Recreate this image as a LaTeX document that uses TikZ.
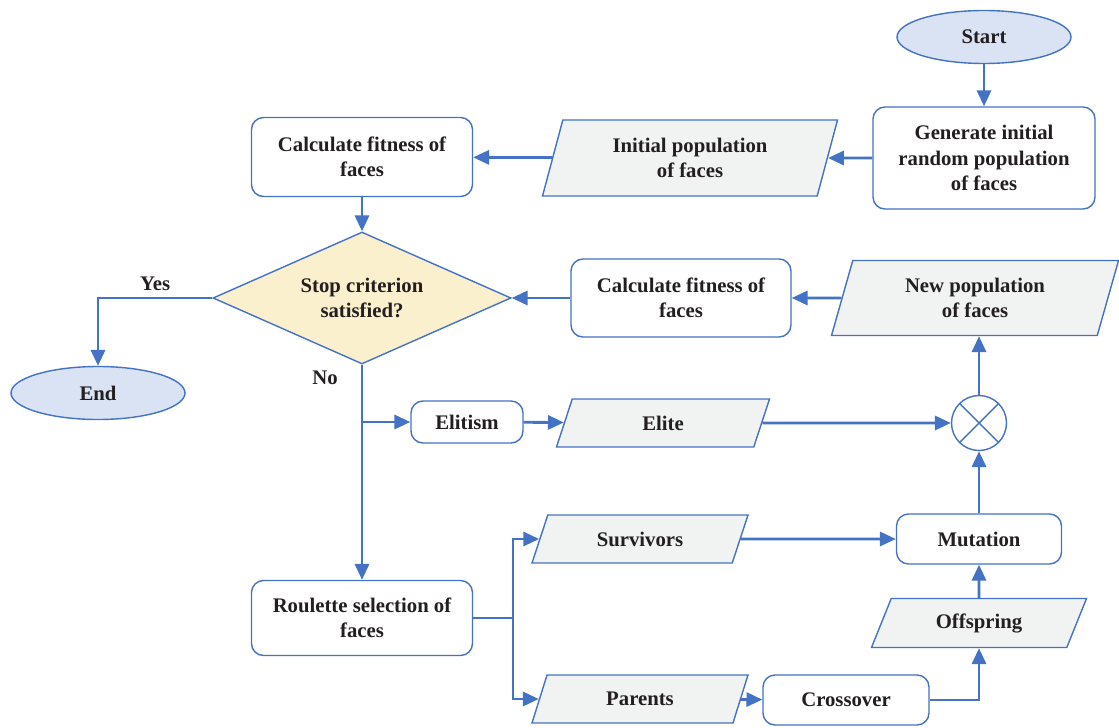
\documentclass[tikz,border=0pt]{standalone}
\usepackage{fontspec}
\setmainfont{Liberation Serif}
\usetikzlibrary{shapes,arrows.meta}
\definecolor{lineblue}{HTML}{4472C4}
\definecolor{termfill}{HTML}{DAE3F3}
\definecolor{datafill}{HTML}{F1F3F2}
\definecolor{askfill}{HTML}{FBF0CE}
\definecolor{inkdark}{HTML}{231F20}

\begin{document}
\begin{tikzpicture}[x=0.2mm,y=-0.2mm,
	font=\fontsize{11.8}{14.5}\selectfont\bfseries,text=inkdark,
	term/.style={ellipse,draw=lineblue,line width=0.8pt,fill=termfill,minimum width=34.8mm,minimum height=10.6mm},
	proc/.style={rectangle,rounded corners=2.4mm,draw=lineblue,line width=0.8pt,fill=white,align=center},
	data/.style={trapezium,trapezium left angle=#1,trapezium right angle=180-#1,trapezium stretches body,draw=lineblue,line width=0.8pt,fill=datafill,align=center,inner sep=1pt},
	ask/.style={diamond,aspect=2.26,draw=lineblue,line width=0.8pt,fill=askfill,align=center,inner sep=0pt,minimum width=59.6mm,minimum height=26.4mm},
	flow/.style={draw=lineblue,line width=1.6pt,-{Triangle[length=9pt,width=8pt]}},
	link/.style={draw=lineblue,line width=1.6pt}]
			\useasboundingbox (0,0) rectangle (1119,727);

			\node[term] (start) at (984,37) {Start};
			\node[proc,minimum width=44.4mm,minimum height=20.4mm] (gen) at (984,158) {Generate initial\\random population\\of faces};
			\node[data=65,minimum width=59mm,minimum height=15.2mm] (init) at (690,158) {Initial population\\of faces};
			\node[proc,minimum width=44.2mm,minimum height=15.8mm] (fit1) at (362,157) {Calculate fitness of\\faces};
			\node[ask] (stop) at (362,298) {Stop criterion\\satisfied?};
			\node[proc,minimum width=44mm,minimum height=15.6mm] (fit2) at (681,298) {Calculate fitness of\\faces};
			\node[data=64,minimum width=57.4mm,minimum height=15mm] (newpop) at (975,298) {New population\\of faces};
			\node[term] (fin) at (98,393) {End};
			\node[proc,minimum width=22.4mm,minimum height=8.4mm] (elit) at (467,422) {Elitism};
			\node[data=49,minimum width=42.6mm,minimum height=9.6mm] (elite) at (663,423) {Elite};
			\node[circle,draw=lineblue,line width=0.8pt,minimum size=11mm,inner sep=0pt,
				path picture={\draw[lineblue,line width=0.8pt] (path picture bounding box.north west) -- (path picture bounding box.south east)
				(path picture bounding box.north east) -- (path picture bounding box.south west);}] (mix) at (979,423) {};
			\node[data=49,minimum width=43.2mm,minimum height=9.6mm] (surv) at (640,539) {Survivors};
			\node[proc,minimum width=33mm,minimum height=10mm] (mut) at (979,539) {Mutation};
			\node[data=49,minimum width=43mm,minimum height=9.8mm] (off) at (979,623) {Offspring};
			\node[proc,minimum width=44.2mm,minimum height=15mm] (rou) at (362,618) {Roulette selection of\\faces};
			\node[data=49,minimum width=43.2mm,minimum height=9.6mm] (par) at (640,699) {Parents};
			\node[proc,minimum width=33.2mm,minimum height=10mm] (cross) at (846,700) {Crossover};
			\coordinate (split) at (513,618);

			\path[flow] (start) -- (gen);
			\path[flow] (gen) -- (init);
			\path[flow] (init) -- (fit1);
			\path[flow] (fit1) -- (stop);
			\path[flow] (newpop) -- (fit2);
			\path[flow] (fit2) -- (stop);
			\path[flow] (stop.west) -| node[pos=0.25,above] {Yes} (fin.north);
			\path[flow] (stop.south) -- node[pos=0.06,left,xshift=-3.4mm] {No} (rou.north);
			\path[flow] (stop.south |- elit.west) -- (elit.west);
			\path[flow] (elit) -- (elite);
			\path[flow] (elite) -- (mix);
			\path[flow] (mix.north) -- (mix.north |- newpop.south);
			\path[flow] (mut) -- (mix);
			\path[flow] (surv) -- (mut);
			\path[link] (rou.east) -- (split);
			\path[flow] (split) |- (surv.west);
			\path[flow] (split) |- (par.west);
			\path[flow] (par) -- (cross);
			\path[flow] (cross.east) -| (off.south);
			\path[flow] (off) -- (mut);
		\end{tikzpicture}
\end{document}
